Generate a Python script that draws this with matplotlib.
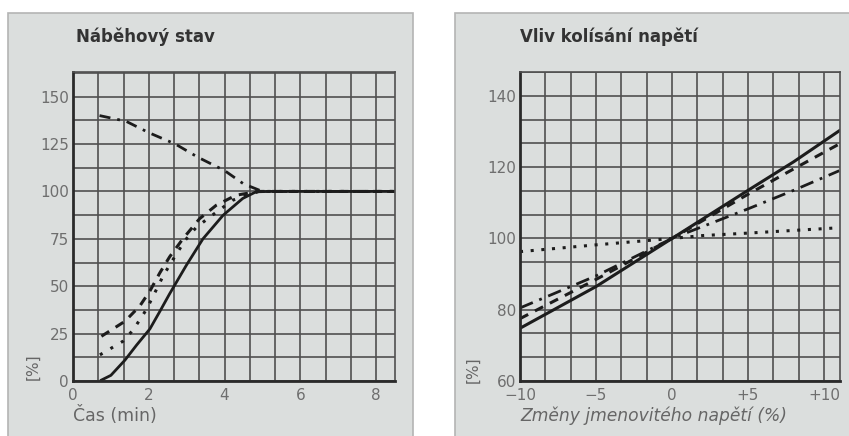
import numpy as np
import matplotlib.pyplot as plt
from matplotlib.patches import Rectangle

# left panel: start-up state (time in minutes, %)
t_solid = [0.75, 1.0, 1.37, 1.68, 2.03, 2.3, 2.55, 2.99, 3.43, 3.96, 4.48, 4.83, 5.2, 8.5]
v_solid = [0.5, 3, 11, 19, 27.5, 37, 46, 61, 75, 87.4, 96.3, 99.8, 100, 100]

t_dash = [0.75, 1.37, 1.76, 2.03, 2.29, 2.55, 2.9, 3.34, 3.78, 4.3, 4.9, 8.5]
v_dash = [23.6, 31.5, 39.5, 47.5, 57, 65.5, 75, 85.6, 92.7, 98, 100, 100]

t_dot = [0.71, 1.32, 1.59, 1.94, 2.16, 2.38, 2.65, 2.95, 3.25, 3.78, 4.22, 4.9, 8.5]
v_dot = [13.8, 21, 27, 37.8, 46.6, 55.5, 64.4, 74, 81, 89, 95.4, 100, 100]

t_dd = [0.7, 1.4, 2.0, 2.7, 3.3, 4.0, 4.5, 5.0, 8.5]
v_dd = [140, 137, 131, 125, 118, 111, 104, 100, 100]

# right panel: influence of voltage fluctuation
u = [-10, -5, 0, 5, 8, 11]
r_solid = [74.8, 86.5, 100, 113.5, 121.5, 130.2]
r_dash = [77.5, 88.5, 100, 112.4, 119.5, 126.5]
r_dd = [80.5, 89.5, 100, 108.3, 113.5, 119]
u_dot = [-10, -5, 0, 2, 5, 11]
r_dot = [96.3, 98.2, 100, 100.8, 101.5, 103]

panel_bg = '#dbdedd'
grid_c = '#505050'
tick_c = '#6e6e6e'
ink = '#1c1c1c'

fig = plt.figure(figsize=(8.49, 4.36), dpi=100)
fig.patches.append(Rectangle((0.0094, -0.05), 0.477, 1.02, transform=fig.transFigure,
                             facecolor=panel_bg, edgecolor='#b4b4b4', lw=1.2, zorder=-5))
fig.patches.append(Rectangle((0.536, -0.05), 0.47, 1.02, transform=fig.transFigure,
                             facecolor=panel_bg, edgecolor='#b4b4b4', lw=1.2, zorder=-5))

ax1 = fig.add_axes([0.086, 0.1261, 0.3793, 0.7088])
ax2 = fig.add_axes([0.6125, 0.1261, 0.3769, 0.7088])

for ax in (ax1, ax2):
    ax.set_facecolor(panel_bg)
    ax.grid(True, which='both', color=grid_c, lw=1.2)
    ax.set_axisbelow(True)
    ax.tick_params(which='both', length=0, colors=tick_c, labelsize=11)
    ax.tick_params(axis='x', pad=5)
    ax.tick_params(axis='y', pad=3)
    for s in ('top', 'right'):
        ax.spines[s].set_color(grid_c)
        ax.spines[s].set_linewidth(1.2)
    for s in ('left', 'bottom'):
        ax.spines[s].set_color('#2a2a2a')
        ax.spines[s].set_linewidth(2)

# left chart
ax1.plot(t_solid, v_solid, color=ink, lw=2)
ax1.plot(t_dash, v_dash, color=ink, lw=2.2, dashes=(3, 2.5))
ax1.plot(t_dot, v_dot, color=ink, lw=2.2, dashes=(1, 3))
ax1.plot(t_dd, v_dd, color=ink, lw=2, dashes=(4, 2.5, 1, 2.5))
ax1.set_xlim(0, 8.5)
ax1.set_ylim(0, 163)
ax1.set_xticks([0, 2, 4, 6, 8])
ax1.set_xticks(np.arange(0, 8.5, 2 / 3), minor=True)
ax1.set_yticks([0, 25, 50, 75, 100, 125, 150])
ax1.set_yticks(np.arange(0, 163, 12.5), minor=True)

# right chart
ax2.plot(u, r_solid, color=ink, lw=2.2)
ax2.plot(u, r_dash, color=ink, lw=2.2, dashes=(3, 2.5))
ax2.plot(u_dot, r_dot, color=ink, lw=2.2, dashes=(1, 2.5))
ax2.plot(u, r_dd, color=ink, lw=2, dashes=(5, 2.5, 1, 2.5))
ax2.set_xlim(-10, 11.05)
ax2.set_ylim(60, 146.7)
ax2.set_xticks([-10, -5, 0, 5, 10])
ax2.set_xticklabels(['\u221210', '\u22125', '0', '+5', '+10'])
ax2.set_xticks(np.arange(-10, 11.05, 5 / 3), minor=True)
ax2.set_yticks([60, 80, 100, 120, 140])
ax2.set_yticks(np.arange(60, 146.7, 20 / 3), minor=True)

# texts
fig.text(0.0895, 0.915, 'Náběhový stav', fontsize=12, fontweight='bold', color='#333333', va='center')
fig.text(0.6125, 0.915, 'Vliv kolísání napětí', fontsize=12, fontweight='bold', color='#333333', va='center')
fig.text(0.086, 0.046, 'Čas (min)', fontsize=12.5, color='#666666', va='center')
fig.text(0.6125, 0.046, 'Změny jmenovitého napětí (%)', fontsize=12.3, style='italic',
         color='#666666', va='center')
fig.text(0.039, 0.158, '[%]', fontsize=11, color='#666666', rotation=90, va='center', ha='center')
fig.text(0.557, 0.151, '[%]', fontsize=11, color='#666666', rotation=90, va='center', ha='center')

fig.savefig('out.png', dpi=100)
